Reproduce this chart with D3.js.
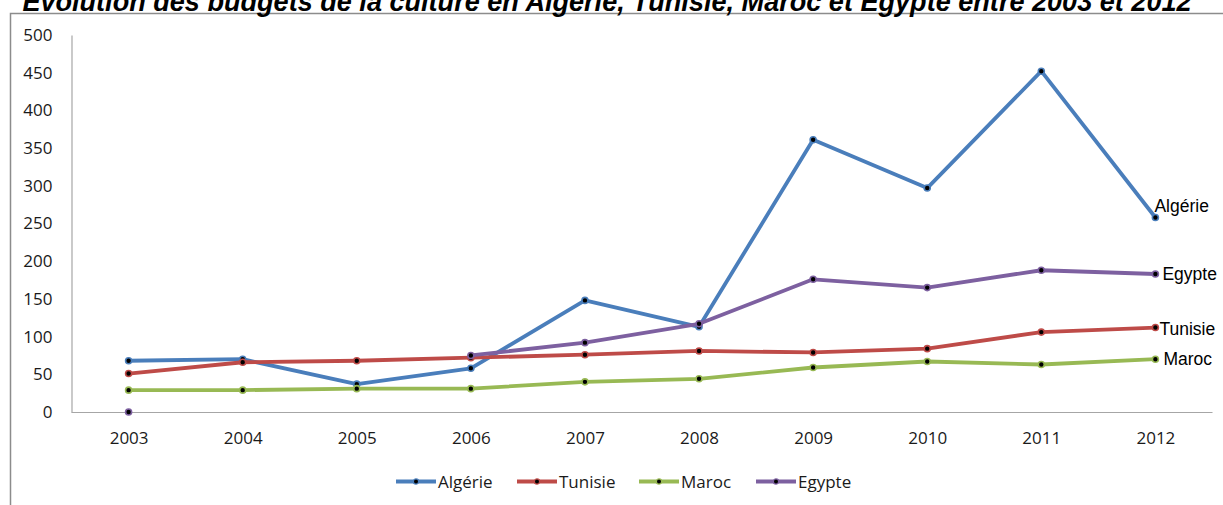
<!DOCTYPE html>
<html><head><meta charset="utf-8">
<script src="https://cdn.jsdelivr.net/npm/d3@7"></script>
<style>body{margin:0;background:#fff}svg{display:block}</style>
</head><body>
<script>
const years = ["2003","2004","2005","2006","2007","2008","2009","2010","2011","2012"];
const algerie = [68, 70, 37, 58, 148, 113, 361, 297, 452, 258];
const tunisie = [51, 66, 68, 72, 76, 81, 79, 84, 106, 112];
const maroc   = [29, 29, 31, 31, 40, 44, 59, 67, 63, 70];
const egypte  = [0, null, null, 75, 92, 117, 176, 165, 188, 183];
const yTicks = [0, 50, 100, 150, 200, 250, 300, 350, 400, 450, 500];
const seriesNames = ["Algérie", "Tunisie", "Maroc", "Egypte"];
const titleText = "Evolution des budgets de la culture en Algérie, Tunisie, Maroc et Egypte entre 2003 et 2012";

const series = [
  {name: seriesNames[0], values: algerie, color: "#4A7EBB"},
  {name: seriesNames[1], values: tunisie, color: "#BE4B48"},
  {name: seriesNames[2], values: maroc,   color: "#98B954"},
  {name: seriesNames[3], values: egypte,  color: "#7D60A0"}
];

const W = 1223, H = 505;
const svg = d3.select("body").append("svg").attr("width", W).attr("height", H);

// outer frame
svg.append("path").attr("d", `M10.5,${H} V13.5 H${W}`)
  .attr("fill","none").attr("stroke","#8c8c8c").attr("stroke-width",1.5);

// title
const title = svg.append("text").attr("x", 607).attr("y", 11)
  .attr("text-anchor","middle")
  .attr("font-family","Liberation Sans, Arial, sans-serif")
  .attr("font-weight","bold").attr("font-style","italic")
  .attr("font-size", 20).text(titleText);
const tw = title.node().getComputedTextLength();
title.attr("font-size", 20 * 1170 / tw);

const x = d3.scalePoint().domain(years).range([71.5 + 57.1, 1212.5 - 57.1]);
const y = d3.scaleLinear().domain([0, 500]).range([412, 35]);

const font = "Open Sans, sans-serif";

// axes
const yAxis = d3.axisLeft(y).tickValues(yTicks).tickSize(0).tickPadding(19);
const gy = svg.append("g").attr("transform","translate(71.5,0)").call(yAxis);
gy.select(".domain").attr("stroke","#a6a6a6").attr("stroke-width",1.2);
gy.selectAll("text").attr("font-family",font).attr("font-size",17).attr("fill","#1a1a1a");

const xAxis = d3.axisBottom(x).tickSize(0).tickPadding(20);
const gx = svg.append("g").attr("transform","translate(0,412)").call(xAxis);
gx.select(".domain").attr("d","M71.5,0.5H1212.5").attr("stroke","#a6a6a6").attr("stroke-width",1.2);
gx.selectAll("text").attr("font-family",font).attr("font-size",17).attr("fill","#1a1a1a");

// lines
const line = d3.line()
  .defined(d => d.v !== null)
  .x(d => x(d.year)).y(d => y(d.v));

series.forEach(s => {
  const pts = years.map((yr, i) => ({year: yr, v: s.values[i]}));
  svg.append("path").datum(pts)
    .attr("d", line).attr("fill","none")
    .attr("stroke", s.color).attr("stroke-width", 3.8)
    .attr("stroke-linejoin","round").attr("stroke-linecap","round");
  svg.append("g").selectAll("circle").data(pts.filter(d => d.v !== null)).join("circle")
    .attr("cx", d => x(d.year)).attr("cy", d => y(d.v)).attr("r", 3)
    .attr("fill","#000").attr("stroke", s.color).attr("stroke-width", 1.6);
});

// end labels
const endLab = [
  {s: 0, dx: -1, dy: -5},
  {s: 3, dx: 7, dy: 6},
  {s: 1, dx: 4, dy: 7},
  {s: 2, dx: 8, dy: 6}
];
endLab.forEach(e => {
  const s = series[e.s];
  const v = s.values[s.values.length - 1];
  svg.append("text")
    .attr("x", x(years[years.length-1]) + e.dx)
    .attr("y", y(v) + e.dy)
    .attr("font-family","Liberation Sans, Arial, sans-serif")
    .attr("font-size", 17.5).attr("fill","#000")
    .text(s.name);
});

// legend
const legX = [396, 517, 639, 756];
const legY = 481.5;
series.forEach((s, i) => {
  const g = svg.append("g").attr("transform", `translate(${legX[i]},${legY})`);
  g.append("line").attr("x1",0).attr("x2",40).attr("y1",0).attr("y2",0)
    .attr("stroke", s.color).attr("stroke-width",3.8);
  g.append("circle").attr("cx",20).attr("cy",0).attr("r",2.6)
    .attr("fill","#000").attr("stroke",s.color).attr("stroke-width",1.2);
  g.append("text").attr("x",42).attr("y",6)
    .attr("font-family",font).attr("font-size",17).attr("fill","#1a1a1a")
    .text(s.name);
});
</script>
</body></html>
